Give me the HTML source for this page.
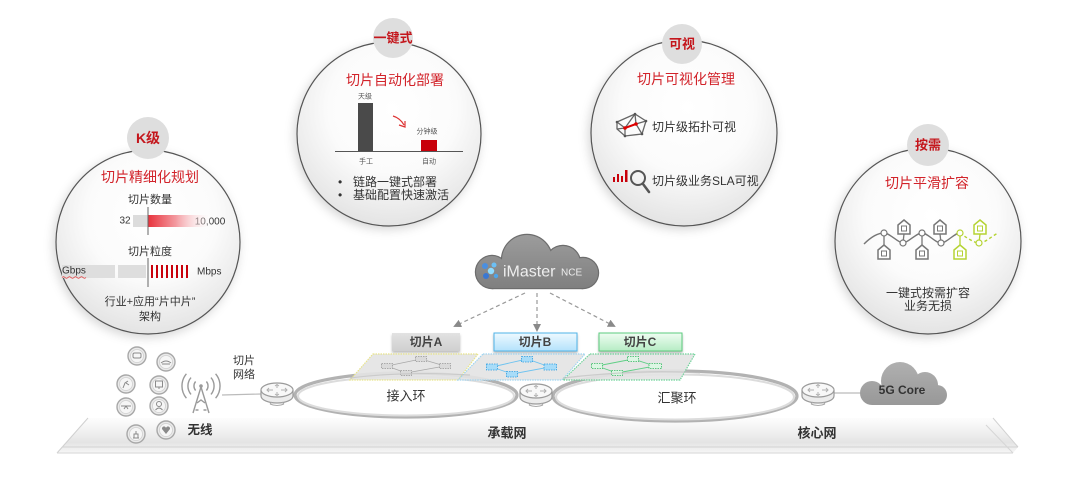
<!DOCTYPE html>
<html><head><meta charset="utf-8"><style>
html,body{margin:0;padding:0;background:#fff;}
svg{display:block;}
text{font-family:"Liberation Sans","Noto Sans CJK SC",sans-serif;}
</style></head><body>
<svg width="1080" height="491" viewBox="0 0 1080 491" xmlns="http://www.w3.org/2000/svg">
<defs>
 <radialGradient id="cg" cx="52%" cy="36%" r="64%">
  <stop offset="0" stop-color="#ffffff"/><stop offset="0.55" stop-color="#fbfbfb"/><stop offset="1" stop-color="#e4e4e4"/>
 </radialGradient>
 <filter id="sh" x="-20%" y="-20%" width="140%" height="140%">
  <feDropShadow dx="-2" dy="3" stdDeviation="5" flood-color="#000" flood-opacity="0.16"/>
 </filter>
 <filter id="ls" x="-10%" y="-30%" width="120%" height="170%">
  <feDropShadow dx="0" dy="2" stdDeviation="1.2" flood-color="#000" flood-opacity="0.25"/>
 </filter>
 <linearGradient id="pg" x1="0" y1="0" x2="0" y2="1">
  <stop offset="0" stop-color="#fdfdfd"/><stop offset="0.4" stop-color="#f0f0f0"/><stop offset="0.7" stop-color="#e4e4e4"/><stop offset="0.83" stop-color="#ececec"/><stop offset="1" stop-color="#f7f7f7"/>
 </linearGradient>
 <linearGradient id="redbar" x1="0" x2="1" y1="0" y2="0">
  <stop offset="0" stop-color="#e8323c"/><stop offset="0.45" stop-color="#f39aa0"/><stop offset="1" stop-color="#ffffff" stop-opacity="0.2"/>
 </linearGradient>
 <linearGradient id="cl1" gradientUnits="userSpaceOnUse" x1="0" y1="235" x2="0" y2="289">
  <stop offset="0" stop-color="#9c9c9c"/><stop offset="1" stop-color="#7f7f7f"/>
 </linearGradient>
 <linearGradient id="cl2" gradientUnits="userSpaceOnUse" x1="0" y1="362" x2="0" y2="405">
  <stop offset="0" stop-color="#b0b0b0"/><stop offset="1" stop-color="#989898"/>
 </linearGradient>
 <linearGradient id="bB" x1="0" y1="0" x2="0" y2="1">
  <stop offset="0" stop-color="#eef9ff"/><stop offset="1" stop-color="#b4e2fb"/>
 </linearGradient>
 <linearGradient id="bC" x1="0" y1="0" x2="0" y2="1">
  <stop offset="0" stop-color="#effcf2"/><stop offset="1" stop-color="#b6ecc4"/>
 </linearGradient>
 <linearGradient id="bA" x1="0" y1="0" x2="0" y2="1">
  <stop offset="0" stop-color="#e2e2e2"/><stop offset="1" stop-color="#cfcfcf"/>
 </linearGradient>
 <marker id="ah" markerWidth="8" markerHeight="8" refX="6" refY="4" orient="auto" markerUnits="userSpaceOnUse">
  <path d="M0,0 L8,4 L0,8 z" fill="#8a8a8a"/>
 </marker>
 <g id="rt">
  <path d="M-16,0 V6 A16,7 0 0 0 16,6 V0" fill="#ececec" stroke="#9a9a9a" stroke-width="1.2"/>
  <ellipse cx="0" cy="0" rx="16" ry="7" fill="#f8f8f8" stroke="#9a9a9a" stroke-width="1.2"/>
  <path d="M-10,0 h6 M-8,-2 l-2,2 l2,2 M10,0 h-6 M8,-2 l2,2 l-2,2 M0,-5 v3 M-2,-4 l2,-1.5 l2,1.5 M0,5 v-3 M-2,4 l2,1.5 l2,-1.5" stroke="#b0b0b0" stroke-width="1" fill="none"/>
  <path d="M-7,14 q7,3 14,0" stroke="#aaa" stroke-width="1" fill="none"/>
  <path d="M-7,14 l2,-2 M7,14 l-2,-2" stroke="#aaa" stroke-width="1"/>
 </g>
 <g id="dv">
  <circle r="9" fill="#eaeaea" stroke="#a8a8a8" stroke-width="1.4"/>
  <circle r="6.5" fill="#f6f6f6" stroke="#d0d0d0" stroke-width="0.8"/>
 </g>
</defs>

<!-- platform -->
<polygon points="88,418 993,418 1018,447 1013,453 57,453" fill="url(#pg)"/>
<line x1="88" y1="418" x2="57" y2="453" stroke="#d0d0d0" stroke-width="1"/>
<line x1="62" y1="447" x2="1018" y2="447" stroke="#d2d2d2" stroke-width="1"/>
<line x1="57" y1="453" x2="1013" y2="453" stroke="#d6d6d6" stroke-width="1"/>
<line x1="993" y1="418" x2="1018" y2="447" stroke="#d2d2d2" stroke-width="1"/>
<line x1="986" y1="425" x2="1013" y2="453" stroke="#d6d6d6" stroke-width="1"/>

<!-- big circles -->
<circle cx="148" cy="242" r="92" fill="url(#cg)" stroke="#555" stroke-width="1.2" filter="url(#sh)"/>
<circle cx="389" cy="134" r="92" fill="url(#cg)" stroke="#555" stroke-width="1.2" filter="url(#sh)"/>
<circle cx="684" cy="133" r="93" fill="url(#cg)" stroke="#555" stroke-width="1.2" filter="url(#sh)"/>
<circle cx="928" cy="241" r="93" fill="url(#cg)" stroke="#555" stroke-width="1.2" filter="url(#sh)"/>

<!-- badges -->
<circle cx="148" cy="138" r="21" fill="#dedede"/>
<circle cx="393" cy="38" r="20" fill="#dedede"/>
<circle cx="682" cy="44" r="20" fill="#dedede"/>
<circle cx="928" cy="145" r="21" fill="#dedede"/>
<g font-weight="bold" fill="#c4161c" text-anchor="middle" dominant-baseline="central">
 <text x="148" y="138" font-size="14">K级</text>
 <text x="393" y="38" font-size="13">一键式</text>
 <text x="682" y="44" font-size="13">可视</text>
 <text x="928" y="145" font-size="13">按需</text>
</g>

<!-- circle 1 content -->
<g text-anchor="middle" dominant-baseline="central">
 <text x="150" y="177" font-size="14" fill="#d2232a">切片精细化规划</text>
 <text x="150" y="200" font-size="11" fill="#333">切片数量</text>
 <text x="125" y="221" font-size="10" fill="#333">32</text>
 <text x="210" y="222" font-size="10" fill="#333">10,000</text>
 <text x="150" y="252" font-size="11" fill="#333">切片粒度</text>
 <text x="150" y="302" font-size="11" fill="#333">行业+应用“片中片”</text>
 <text x="150" y="317" font-size="11" fill="#333">架构</text>
</g>
<rect x="133" y="215" width="15" height="12" fill="#dcdcdc"/>
<rect x="148" y="215" width="62" height="12" fill="url(#redbar)"/>
<line x1="148" y1="207" x2="148" y2="235" stroke="#666" stroke-width="1"/>
<rect x="62" y="265" width="53" height="13" fill="#dedede"/>
<rect x="118" y="265" width="28" height="13" fill="#dedede"/>
<line x1="148" y1="258" x2="148" y2="287" stroke="#666" stroke-width="1"/>
<g fill="#c8000a">
 <rect x="151" y="265" width="2" height="13"/><rect x="156" y="265" width="2" height="13"/>
 <rect x="161" y="265" width="2" height="13"/><rect x="166" y="265" width="2" height="13"/>
 <rect x="171" y="265" width="2" height="13"/><rect x="176" y="265" width="2" height="13"/>
 <rect x="181" y="265" width="2" height="13"/><rect x="186" y="265" width="2" height="13"/>
</g>
<text x="62" y="271" font-size="10" fill="#333" dominant-baseline="central">Gbps</text>
<path d="M62,277.5 q1.5,-1.5 3,0 t3,0 t3,0 t3,0 t3,0 t3,0 t3,0 t3,0" stroke="#e03030" stroke-width="0.7" fill="none"/>
<text x="197" y="272" font-size="10" fill="#333" dominant-baseline="central">Mbps</text>

<!-- circle 2 content -->
<text x="395" y="80" font-size="14" fill="#d2232a" text-anchor="middle" dominant-baseline="central">切片自动化部署</text>
<rect x="358" y="103" width="15" height="48" fill="#4a4a4a"/>
<rect x="421" y="140" width="16" height="11" fill="#c8000a"/>
<line x1="335" y1="151.5" x2="463" y2="151.5" stroke="#555" stroke-width="1"/>
<g font-size="7" fill="#555" text-anchor="middle" dominant-baseline="central">
 <text x="365" y="97">天级</text>
 <text x="427" y="132">分钟级</text>
 <text x="366" y="162">手工</text>
 <text x="429" y="162">自动</text>
</g>
<path d="M393,116 Q400,118 404,125 M399,125 L405,127 L405,121" stroke="#d33" stroke-width="1.2" fill="none"/>
<g font-size="12" fill="#333" dominant-baseline="central">
 <text x="338" y="182">•</text><text x="353" y="182">链路一键式部署</text>
 <text x="338" y="195">•</text><text x="353" y="195">基础配置快速激活</text>
</g>

<!-- circle 3 content -->
<text x="686" y="79" font-size="14" fill="#d2232a" text-anchor="middle" dominant-baseline="central">切片可视化管理</text>
<g stroke="#666" stroke-width="1.3" fill="none">
 <polygon points="617,122 635,114 646,121 642,134 625,136 617,129"/>
 <path d="M617,122 L625,128 L635,114 M625,128 L625,136 M625,128 L636,124 L646,121 M636,124 L642,134 M636,124 L635,114 M617,129 L625,128"/>
</g>
<line x1="625" y1="128" x2="636" y2="124" stroke="#d00" stroke-width="2"/>
<circle cx="625" cy="128" r="1.8" fill="#d00"/><circle cx="636" cy="124" r="1.8" fill="#d00"/>
<g fill="#555"><circle cx="617" cy="122" r="1.3"/><circle cx="635" cy="114" r="1.3"/><circle cx="646" cy="121" r="1.3"/><circle cx="642" cy="134" r="1.3"/><circle cx="625" cy="136" r="1.3"/></g>
<g fill="#c8000a">
 <rect x="613" y="177" width="2" height="5"/><rect x="617" y="174" width="2" height="8"/>
 <rect x="621" y="176" width="2" height="6"/><rect x="625" y="170" width="2.5" height="12"/>
</g>
<circle cx="638" cy="178" r="7" fill="none" stroke="#555" stroke-width="2"/>
<line x1="643" y1="184" x2="649" y2="192" stroke="#555" stroke-width="2.5" stroke-linecap="round"/>
<g font-size="12" fill="#333" dominant-baseline="central">
 <text x="652" y="127">切片级拓扑可视</text>
 <text x="652" y="181">切片级业务SLA可视</text>
</g>

<!-- circle 4 content -->
<text x="927" y="183" font-size="14" fill="#d2232a" text-anchor="middle" dominant-baseline="central">切片平滑扩容</text>
<path d="M864,244 C872,236 878,233 884,233 S898,243 903,243 S916,233 922,233 S935,243 941,243 S954,233 960,233" stroke="#777" stroke-width="1.4" fill="none"/>
<path d="M960,233 S973,243 979,243 S992,236 998,233" stroke="#b5d334" stroke-width="1.4" fill="none" stroke-dasharray="3,2.5"/>
<g stroke="#777" stroke-width="1.3" fill="none">
 <line x1="884" y1="233" x2="884" y2="245"/><line x1="922" y1="233" x2="922" y2="245"/>
 <line x1="904" y1="234" x2="903" y2="243"/><line x1="940" y1="234" x2="941" y2="243"/>
</g>
<g stroke="#b5d334" stroke-width="1.3" fill="none">
 <line x1="960" y1="233" x2="960" y2="245"/><line x1="980" y1="234" x2="979" y2="243"/>
</g>
<g stroke="#777" stroke-width="1.5" fill="#fff">
 <path d="M904,220 L910,225 L910,234 L898,234 L898,225 Z"/><rect x="901.5" y="226" width="5" height="5" stroke-width="1"/>
 <path d="M940,220 L946,225 L946,234 L934,234 L934,225 Z"/><rect x="937.5" y="226" width="5" height="5" stroke-width="1"/>
 <path d="M884,245 L890,250 L890,259 L878,259 L878,250 Z"/><rect x="881.5" y="251" width="5" height="5" stroke-width="1"/>
 <path d="M922,245 L928,250 L928,259 L916,259 L916,250 Z"/><rect x="919.5" y="251" width="5" height="5" stroke-width="1"/>
</g>
<g stroke="#b5d334" stroke-width="1.5" fill="#fff">
 <path d="M960,245 L966,250 L966,259 L954,259 L954,250 Z"/><rect x="957.5" y="251" width="5" height="5" stroke-width="1"/>
 <path d="M980,220 L986,225 L986,234 L974,234 L974,225 Z"/><rect x="977.5" y="226" width="5" height="5" stroke-width="1"/>
</g>
<g fill="#fff" stroke-width="1.2">
 <circle cx="884" cy="233" r="3" stroke="#777"/><circle cx="903" cy="243" r="3" stroke="#777"/>
 <circle cx="922" cy="233" r="3" stroke="#777"/><circle cx="941" cy="243" r="3" stroke="#777"/>
 <circle cx="960" cy="233" r="3" stroke="#b5d334"/><circle cx="979" cy="243" r="3" stroke="#b5d334"/>
</g>
<g font-size="12" fill="#333" text-anchor="middle" dominant-baseline="central">
 <text x="928" y="293">一键式按需扩容</text>
 <text x="928" y="306">业务无损</text>
</g>

<!-- iMaster cloud -->
<g fill="#6d6d6d">
 <circle cx="492" cy="272" r="17.2"/><circle cx="527" cy="260" r="26.2"/>
 <circle cx="563" cy="263" r="18.2"/><circle cx="583" cy="273" r="16.2"/>
 <rect x="492" y="264" width="91" height="25.2"/>
</g>
<g fill="url(#cl1)">
 <circle cx="492" cy="272" r="16"/><circle cx="527" cy="260" r="25"/>
 <circle cx="563" cy="263" r="17"/><circle cx="583" cy="273" r="15"/>
 <rect x="492" y="264" width="91" height="24"/>
</g>
<circle cx="485" cy="266" r="3" fill="#4a8fe0"/>
<circle cx="494" cy="265" r="2.5" fill="#6cc0f5"/>
<circle cx="486" cy="276" r="3" fill="#3a78d2"/>
<circle cx="491" cy="271" r="3.2" fill="#8fdcff"/>
<circle cx="496" cy="276" r="2.2" fill="#4fa6ea"/>
<text x="503" y="272" font-size="16" fill="#eeeeee" dominant-baseline="central">iMaster</text>
<text x="561" y="273" font-size="10" fill="#eeeeee" dominant-baseline="central">NCE</text>

<!-- dashed arrows -->
<g stroke="#999" stroke-width="1.2" stroke-dasharray="4,3" fill="none">
 <line x1="525" y1="293" x2="455" y2="326" marker-end="url(#ah)"/>
 <line x1="537" y1="293" x2="537" y2="330" marker-end="url(#ah)"/>
 <line x1="550" y1="293" x2="614" y2="326" marker-end="url(#ah)"/>
</g>

<!-- slice labels -->
<rect x="392" y="333" width="68" height="18" fill="url(#bA)" filter="url(#ls)"/>
<rect x="494" y="333" width="83" height="18" fill="url(#bB)" stroke="#4fb3e8" stroke-width="1" filter="url(#ls)"/>
<rect x="599" y="333" width="83" height="18" fill="url(#bC)" stroke="#5ccc7e" stroke-width="1" filter="url(#ls)"/>
<g font-size="12" font-weight="bold" fill="#444" text-anchor="middle" dominant-baseline="central">
 <text x="426" y="342">切片A</text>
 <text x="535" y="342">切片B</text>
 <text x="640" y="342">切片C</text>
</g>

<!-- rings (fill) -->
<ellipse cx="406" cy="395" rx="111" ry="22" fill="#fff" stroke="#b2b2b2" stroke-width="3.2"/>
<ellipse cx="406" cy="396" rx="108" ry="19.5" fill="none" stroke="#dcdcdc" stroke-width="2"/>
<ellipse cx="675" cy="396" rx="122" ry="25" fill="#fff" stroke="#b2b2b2" stroke-width="3.2"/>
<ellipse cx="675" cy="397" rx="119" ry="22.5" fill="none" stroke="#dcdcdc" stroke-width="2"/>

<!-- parallelograms -->
<polygon points="373,354 478,354 458,380 350,380" fill="#e3e3e3" fill-opacity="0.9" stroke="#e8e48a" stroke-width="1.2" stroke-dasharray="1.5,1"/>
<polygon points="483,354 585,354 562,380 458,380" fill="#e3e3e3" fill-opacity="0.9" stroke="#9fd4f0" stroke-width="1.2" stroke-dasharray="1.5,1"/>
<polygon points="590,354 695,354 680,380 563,380" fill="#e3e3e3" fill-opacity="0.9" stroke="#6fd39a" stroke-width="1.2" stroke-dasharray="1.5,1"/>
<g stroke="#a8a8a8" stroke-width="0.8" fill="none">
 <polyline points="387,366 421,359 445,366 406,373 387,366"/>
</g>
<g stroke="#6ec3f0" stroke-width="0.9" fill="none">
 <polyline points="492,367 527,359 550,367 512,374 492,367"/>
</g>
<g stroke="#5fcf86" stroke-width="0.9" fill="none">
 <polyline points="597,366 633,359 655,366 617,373 597,366"/>
</g>
<g fill="#dadada" stroke="#999" stroke-width="0.8" stroke-dasharray="1.5,1">
 <rect x="381.5" y="363.5" width="11" height="5"/><rect x="415.5" y="356.5" width="11" height="5"/>
 <rect x="439.5" y="363.5" width="11" height="5"/><rect x="400.5" y="370.5" width="11" height="5"/>
</g>
<g fill="#a8dcf8" stroke="#2e9fe2" stroke-width="0.8" stroke-dasharray="1.5,1">
 <rect x="486.5" y="364" width="11" height="6"/><rect x="521.5" y="356.5" width="11" height="5.5"/>
 <rect x="544" y="364" width="12.5" height="6"/><rect x="506.5" y="371.5" width="11" height="5.5"/>
</g>
<g fill="#dcf6e3" stroke="#34bb62" stroke-width="0.8" stroke-dasharray="1.5,1">
 <rect x="591.5" y="363.5" width="11" height="5"/><rect x="627.5" y="356.5" width="11" height="5"/>
 <rect x="649" y="363.5" width="12.5" height="5"/><rect x="611.5" y="370.5" width="11" height="5"/>
</g>
<!-- ring top edges visible through parallelograms -->
<path d="M350,378 Q406,371 470,375" stroke="#c0c0c0" stroke-width="1.2" fill="none" opacity="0.7"/>
<path d="M563,378 Q640,369 700,373" stroke="#c0c0c0" stroke-width="1.2" fill="none" opacity="0.7"/>

<g font-size="13" fill="#333" text-anchor="middle" dominant-baseline="central">
 <text x="406" y="396">接入环</text>
 <text x="677" y="398">汇聚环</text>
</g>

<!-- lines -->
<line x1="222" y1="395" x2="261" y2="394" stroke="#bbb" stroke-width="1.2"/>
<line x1="834" y1="393" x2="861" y2="393" stroke="#bbb" stroke-width="1.2"/>

<!-- routers -->
<use href="#rt" x="277" y="390"/>
<use href="#rt" x="536" y="391"/>
<use href="#rt" x="818" y="390"/>

<!-- 5G core cloud -->
<g fill="url(#cl2)">
 <circle cx="872" cy="393" r="12"/><circle cx="900" cy="381" r="19"/>
 <circle cx="925" cy="385" r="13"/><circle cx="937" cy="395" r="10"/>
 <rect x="872" y="388" width="65" height="17"/>
</g>
<text x="902" y="390" font-size="12" font-weight="bold" fill="#333" text-anchor="middle" dominant-baseline="central">5G Core</text>

<!-- antenna -->
<g stroke="#9a9a9a" stroke-width="1.4" fill="none">
 <path d="M195.6,381.5 A7,7 0 0 0 195.6,390.5"/>
 <path d="M191,377.6 A13,13 0 0 0 191,394.4"/>
 <path d="M186.4,373.8 A19,19 0 0 0 186.4,398.2"/>
 <path d="M206.4,381.5 A7,7 0 0 1 206.4,390.5"/>
 <path d="M211,377.6 A13,13 0 0 1 211,394.4"/>
 <path d="M215.6,373.8 A19,19 0 0 1 215.6,398.2"/>
 <path d="M201,387 L193,413 M201,387 L209,413 M197,403 L201,400 L205,403 M195.5,410 h3 M203.5,410 h3"/>
</g>
<circle cx="201" cy="386" r="1.8" fill="#9a9a9a"/>
<g font-size="11" fill="#333" text-anchor="middle" dominant-baseline="central">
 <text x="244" y="361">切片</text>
 <text x="244" y="375">网络</text>
</g>

<!-- devices -->
<use href="#dv" x="137" y="356"/>
<use href="#dv" x="166" y="362"/>
<use href="#dv" x="126" y="384"/>
<use href="#dv" x="159" y="385"/>
<use href="#dv" x="126" y="407"/>
<use href="#dv" x="159" y="406"/>
<use href="#dv" x="136" y="434"/>
<use href="#dv" x="166" y="430"/>
<g stroke="#8a8a8a" stroke-width="1" fill="none">
 <rect x="133" y="353" width="8" height="5" rx="1.5"/>
 <path d="M161,363 q5,-4 10,0 M162,364 h8"/>
 <path d="M123,388 l2,-5 l3,-2 M126,383 l3,2"/>
 <rect x="155.5" y="381" width="7" height="6"/><path d="M159,387 v2"/>
 <path d="M121,406 h10 M126,406 l-2,3 M126,406 l2,3"/>
 <circle cx="159" cy="404" r="2.5"/><path d="M155.5,410 q3.5,-4 7,0"/>
 <path d="M133,438 h6 M134,438 v-4 h4 v4 M136,434 v-3"/>
</g>
<path d="M162,429 a2,2 0 0 1 4,-1 a2,2 0 0 1 4,1 l-4,5 z" fill="#8a8a8a"/>

<!-- platform labels -->
<g font-weight="bold" fill="#333" text-anchor="middle" dominant-baseline="central">
 <text x="200" y="430" font-size="12.5">无线</text>
 <text x="507" y="433" font-size="13">承载网</text>
 <text x="817" y="433" font-size="13">核心网</text>
</g>
</svg>
</body></html>
